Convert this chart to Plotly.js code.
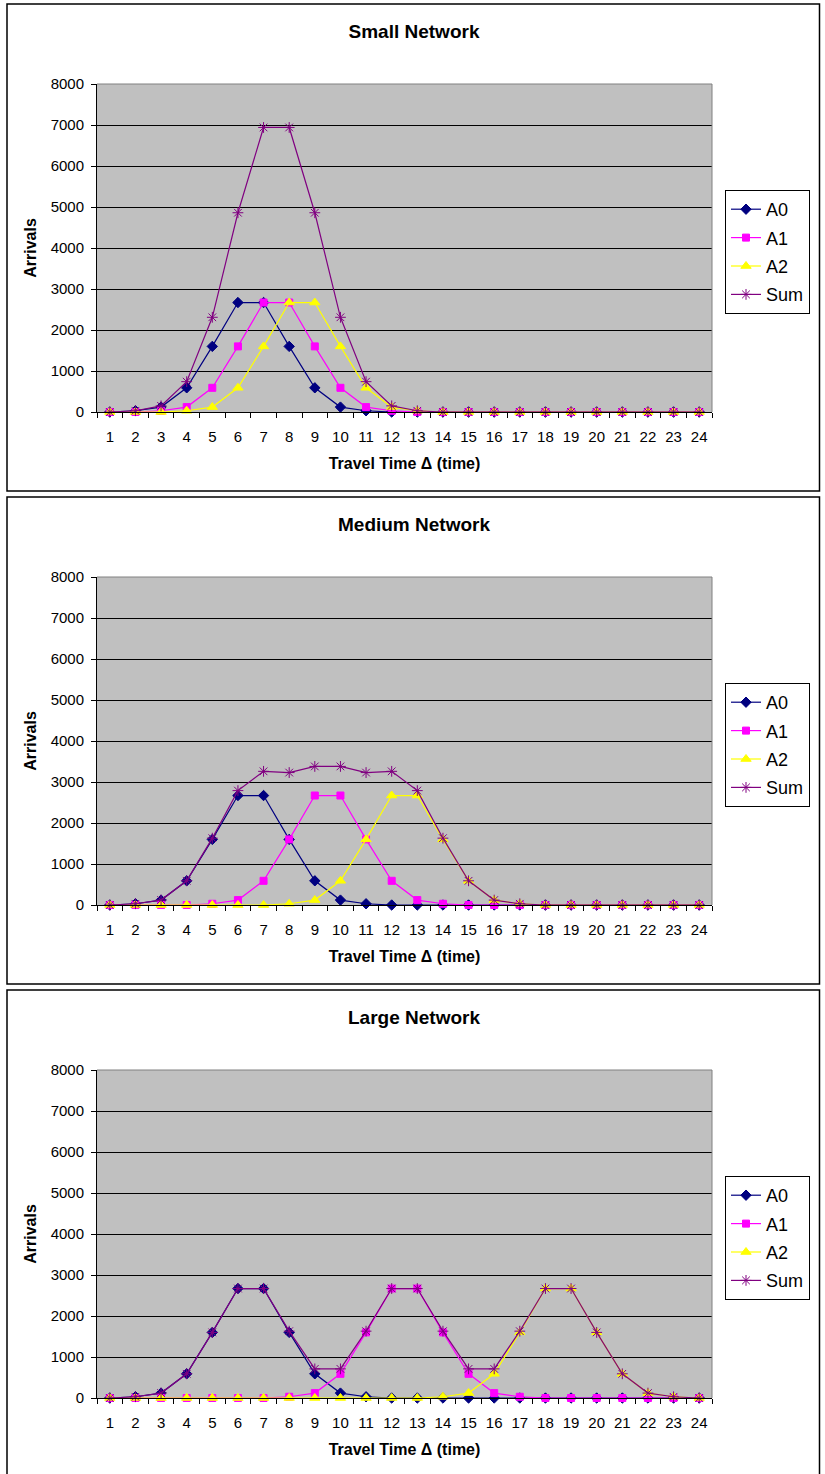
<!DOCTYPE html>
<html>
<head>
<meta charset="utf-8">
<script src="https://cdn.plot.ly/plotly-3.0.1.min.js"></script>
<style>
  html, body { margin: 0; padding: 0; overflow: hidden; background: #fff; }
  .panel { position: absolute; left: 0; width: 825px; height: 493px; }
</style>
</head>
<body>
<div id="small" class="panel" style="top:0px"></div>
<div id="medium" class="panel" style="top:493px"></div>
<div id="large" class="panel" style="top:986px"></div>
<script>
// Travel time steps on the x axis
const travelTime = [1, 2, 3, 4, 5, 6, 7, 8, 9, 10, 11, 12, 13, 14, 15, 16, 17, 18, 19, 20, 21, 22, 23, 24];
const tickLabels = ['1', '2', '3', '4', '5', '6', '7', '8', '9', '10', '11', '12',
                    '13', '14', '15', '16', '17', '18', '19', '20', '21', '22', '23', '24'];

// Small network arrivals
const smallA0  = [0, 30, 120, 590, 1600, 2670, 2670, 1600, 590, 120, 30, 0, 0, 0, 0, 0, 0, 0, 0, 0, 0, 0, 0, 0];
const smallA1  = [0, 0, 30, 120, 590, 1600, 2670, 2670, 1600, 590, 120, 30, 0, 0, 0, 0, 0, 0, 0, 0, 0, 0, 0, 0];
const smallA2  = [0, 0, 0, 30, 120, 590, 1600, 2670, 2670, 1600, 590, 120, 30, 0, 0, 0, 0, 0, 0, 0, 0, 0, 0, 0];
const smallSum = [0, 30, 150, 740, 2310, 4860, 6940, 6940, 4860, 2310, 740, 150, 30, 0, 0, 0, 0, 0, 0, 0, 0, 0, 0, 0];

// Medium network arrivals
const mediumA0  = [0, 30, 120, 590, 1600, 2670, 2670, 1600, 590, 120, 30, 0, 0, 0, 0, 0, 0, 0, 0, 0, 0, 0, 0, 0];
const mediumA1  = [0, 0, 0, 0, 30, 120, 590, 1600, 2670, 2670, 1600, 590, 120, 30, 0, 0, 0, 0, 0, 0, 0, 0, 0, 0];
const mediumA2  = [0, 0, 0, 0, 0, 0, 0, 30, 120, 590, 1600, 2670, 2670, 1600, 590, 120, 30, 0, 0, 0, 0, 0, 0, 0];
const mediumSum = [0, 30, 120, 590, 1630, 2790, 3260, 3230, 3380, 3380, 3230, 3260, 2790, 1630, 590, 120, 30, 0, 0, 0, 0, 0, 0, 0];

// Large network arrivals
const largeA0  = [0, 30, 120, 590, 1600, 2670, 2670, 1600, 590, 120, 30, 0, 0, 0, 0, 0, 0, 0, 0, 0, 0, 0, 0, 0];
const largeA1  = [0, 0, 0, 0, 0, 0, 0, 30, 120, 590, 1600, 2670, 2670, 1600, 590, 120, 30, 0, 0, 0, 0, 0, 0, 0];
const largeA2  = [0, 0, 0, 0, 0, 0, 0, 0, 0, 0, 0, 0, 0, 30, 120, 590, 1600, 2670, 2670, 1600, 590, 120, 30, 0];
const largeSum = [0, 30, 120, 590, 1600, 2670, 2670, 1630, 710, 710, 1630, 2670, 2670, 1630, 710, 710, 1630, 2670, 2670, 1600, 590, 120, 30, 0];

const FONT = 'Liberation Sans, Arial, Helvetica, sans-serif';

// Panel geometry (pixels inside each 825 x 493 panel)
const W = 825, H = 493;
const M = { l: 97, r: 113, t: 84, b: 81 };
const PW = W - M.l - M.r, PH = H - M.t - M.b;
const px = v => (v - M.l) / PW;          // pixel x -> paper x
const py = v => (H - M.b - v) / PH;      // pixel y -> paper y

const seriesStyle = [
  { name: 'A0',  color: '#000080', symbol: 'diamond',       size: 8 },
  { name: 'A1',  color: '#FF00FF', symbol: 'square',        size: 7 },
  { name: 'A2',  color: '#FFFF00', symbol: 'triangle-up',   size: 9 },
  { name: 'Sum', color: '#800080', symbol: 'asterisk-open', size: 9 }
];

function drawPanel(id, titleText, series) {
  const traces = series.map((ys, i) => {
    const s = seriesStyle[i];
    return {
      x: travelTime, y: ys, name: s.name, legendgroup: s.name,
      type: 'scatter', mode: 'lines+markers', cliponaxis: false,
      line: { color: s.color, width: 1.2 },
      marker: { symbol: s.symbol, size: s.size, color: s.color,
                line: { color: s.color, width: 1 } }
    };
  });

  const layout = {
    width: W, height: H,
    margin: M,
    paper_bgcolor: '#ffffff',
    plot_bgcolor: '#C0C0C0',
    font: { family: FONT, size: 15, color: '#000' },
    title: {
      text: '<b>' + titleText + '</b>',
      font: { family: FONT, size: 19, color: '#000' },
      xref: 'container', x: 414 / W, xanchor: 'center',
      yref: 'container', y: 1 - 31 / H, yanchor: 'middle'
    },
    xaxis: {
      range: [0.5, 24.5],
      tickmode: 'array', tickvals: travelTime, ticktext: tickLabels,
      ticks: '', showgrid: false, zeroline: false,
      showline: true, linecolor: '#000', linewidth: 1,
      minor: { ticks: 'outside', ticklen: 5, tickcolor: '#000', tickwidth: 1,
               tick0: 0.5, dtick: 1, showgrid: false },
      tickfont: { family: FONT, size: 15, color: '#000' },
      ticklabelstandoff: 11,
      title: { text: '<b>Travel Time Δ (time)</b>',
               font: { family: FONT, size: 16, color: '#000' }, standoff: 13 }
    },
    yaxis: {
      range: [0, 8000], tick0: 0, dtick: 1000,
      ticks: 'outside', ticklen: 5, tickcolor: '#000', tickwidth: 1,
      showline: true, linecolor: '#000', linewidth: 1,
      gridcolor: '#000', gridwidth: 1, zeroline: false,
      tickfont: { family: FONT, size: 15, color: '#000' },
      ticklabelstandoff: 4,
      title: { text: '<b>Arrivals</b>',
               font: { family: FONT, size: 16, color: '#000' }, standoff: 10 }
    },
    showlegend: true,
    legend: {
      x: px(725), xanchor: 'left', y: py(190), yanchor: 'top',
      bgcolor: '#ffffff', bordercolor: '#000', borderwidth: 1,
      font: { family: FONT, size: 18, color: '#000' },
      tracegroupgap: 2, itemwidth: 30
    },
    shapes: [
      // plot area frame (top and right edges)
      { type: 'line', xref: 'paper', yref: 'paper', x0: 0, x1: 1, y0: 1, y1: 1,
        line: { color: '#808080', width: 1 } },
      { type: 'line', xref: 'paper', yref: 'paper', x0: 1, x1: 1, y0: 0, y1: 1,
        line: { color: '#808080', width: 1 } },
      // chart border
      { type: 'rect', xref: 'paper', yref: 'paper',
        x0: px(7), x1: px(819.5), y0: py(491), y1: py(4),
        line: { color: '#000', width: 1.5 }, fillcolor: 'rgba(0,0,0,0)' }
    ]
  };

  Plotly.newPlot(id, traces, layout, { staticPlot: true, displayModeBar: false });
}

drawPanel('small',  'Small Network',  [smallA0, smallA1, smallA2, smallSum]);
drawPanel('medium', 'Medium Network', [mediumA0, mediumA1, mediumA2, mediumSum]);
drawPanel('large',  'Large Network',  [largeA0, largeA1, largeA2, largeSum]);
</script>
</body>
</html>
